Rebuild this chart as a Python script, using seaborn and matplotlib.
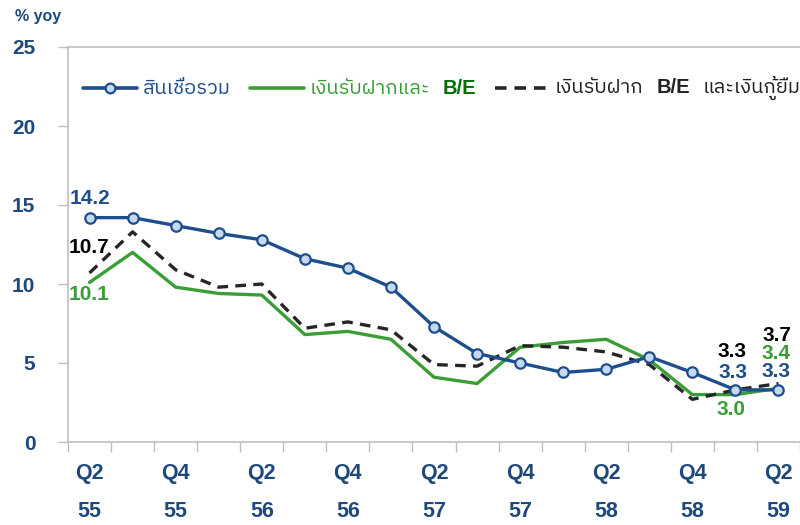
import numpy as np
import pandas as pd
import matplotlib
matplotlib.use("Agg")
import matplotlib.pyplot as plt
from matplotlib import font_manager as fm
from matplotlib.ft2font import FT2Font
from matplotlib.ticker import FixedLocator
from matplotlib.lines import Line2D
from matplotlib.offsetbox import (TextArea, DrawingArea, HPacker,
                                  AnchoredOffsetbox)
import seaborn as sns

# ---------------- data ----------------
quarters = ["Q2", "Q3", "Q4", "Q1", "Q2", "Q3", "Q4", "Q1", "Q2",
            "Q3", "Q4", "Q1", "Q2", "Q3", "Q4", "Q1", "Q2"]
years = ["55", "55", "55", "56", "56", "56", "56", "57", "57",
         "57", "57", "58", "58", "58", "58", "59", "59"]
loans = [14.2, 14.2, 13.7, 13.2, 12.8, 11.6, 11.0, 9.8, 7.3,
         5.6, 5.0, 4.4, 4.6, 5.4, 4.4, 3.3, 3.3]
deposits_be = [10.1, 12.0, 9.8, 9.4, 9.3, 6.8, 7.0, 6.5, 4.1,
               3.7, 6.0, 6.3, 6.5, 5.2, 3.0, 3.0, 3.4]
deposits_be_borrow = [10.7, 13.3, 10.9, 9.8, 10.0, 7.2, 7.6, 7.1, 4.9,
                      4.8, 6.1, 6.0, 5.7, 4.9, 2.7, 3.3, 3.7]
# legend labels split into (text, bold?) pieces
legend_pieces = [
    [("สินเชื่อรวม", False)],
    [("เงินรับฝากและ", False), ("B/E", True)],
    [("เงินรับฝาก", False), ("B/E", True), ("และเงินกู้ยืม", False)],
]
y_ticks = [0, 5, 10, 15, 20, 25]
y_label = "% yoy"

# ---------------- style ----------------
BLUE = "#1F4E8C"
GREEN = "#3A9E36"
DKGREEN = "#007000"
BLACK = "#262626"
NAVY = "#1F497D"
GRAY = "#BFBFBF"
MFACE = "#C5D9F1"
DASH = (0, (3.2, 2.2))


def find_thai_font():
    best = None
    for f in fm.fontManager.ttflist:
        try:
            ft = FT2Font(f.fname)
            if not (ft.get_char_index(0x0E2A) and ft.get_char_index(0x0E19)):
                continue
        except Exception:
            continue
        score = 0
        if "thai" in f.name.lower():
            score += 10
        if f.style == "normal":
            score += 3
        if f.weight in (400, "normal", "regular"):
            score += 2
        if best is None or score > best[0]:
            best = (score, f.name)
    return best[1] if best else None


sns.set_theme(style="white")
thai = find_thai_font()
families = ["Liberation Sans"]
if thai:
    families.append(thai)
families.append("DejaVu Sans")
plt.rcParams["font.family"] = families

fig = plt.figure(figsize=(8, 5.25), dpi=100)
ax = fig.add_axes([68 / 800, 1 - 442 / 525, (800 - 68) / 800, (442 - 47) / 525])

x = np.arange(len(quarters))
df = pd.DataFrame({"x": x, "loans": loans, "dep": deposits_be,
                   "depb": deposits_be_borrow})

sns.lineplot(data=df, x="x", y="loans", ax=ax, color=BLUE, linewidth=2.4,
             marker="o", markersize=7.5, markerfacecolor=MFACE,
             markeredgecolor=BLUE, markeredgewidth=1.6, zorder=4)
sns.lineplot(data=df, x="x", y="dep", ax=ax, color=GREEN, linewidth=2.4,
             zorder=3)
sns.lineplot(data=df, x="x", y="depb", ax=ax, color=BLACK, linewidth=2.4,
             zorder=3)
ax.lines[2].set_linestyle(DASH)

ax.set_xlim(-0.5, len(quarters) - 0.5)
ax.set_ylim(0, 25)

# x ticks: labels every other quarter, tick marks on category boundaries
lab_idx = list(range(0, len(quarters), 2))
ax.set_xticks(lab_idx)
ax.set_xticklabels([f"{quarters[i]}\n{years[i]}" for i in lab_idx],
                   fontsize=15.5, fontweight="bold", color=NAVY,
                   linespacing=2.1)
ax.xaxis.set_minor_locator(FixedLocator(np.arange(-0.5, len(quarters), 1)))
ax.tick_params(axis="x", which="major", length=0, pad=15)
ax.tick_params(axis="x", which="minor", length=7, width=1, color=GRAY,
               direction="out", bottom=True)

ax.set_yticks(y_ticks)
ax.set_yticklabels([str(v) for v in y_ticks], fontsize=15,
                   fontweight="bold", color=NAVY)
ax.tick_params(axis="y", length=7.5, width=1, color=GRAY, pad=16,
               left=True)

ax.set_xlabel("")
ax.set_ylabel("")
for side in ["left", "bottom", "top"]:
    ax.spines[side].set_visible(True)
    ax.spines[side].set_color(GRAY)
    ax.spines[side].set_linewidth(1.2)
ax.spines["right"].set_visible(False)
ax.grid(False)

fig.text(15 / 800, 1 - 17 / 525, y_label, fontsize=11.5, fontweight="bold",
         color=NAVY, va="center", ha="left")


# ---------------- legend built from offset boxes ----------------
def make_handle(color, dashed=False, marker=False):
    da = DrawingArea(39, 10, 0, 0)
    da.add_artist(Line2D([0, 39], [5, 5], color=color, lw=2.6,
                         ls=DASH if dashed else "-"))
    if marker:
        da.add_artist(Line2D([19.5], [5], marker="o", ms=7, mfc=MFACE,
                             mec=color, mew=1.6, ls="none"))
    return da


entries = []
specs = [(BLUE, False, True, BLUE, BLUE),
         (GREEN, False, False, GREEN, DKGREEN),
         (BLACK, True, False, "#222222", "#222222")]
for pieces, (lc, dashed, mk, tc, bc) in zip(legend_pieces, specs):
    texts = []
    for txt, bold in pieces:
        texts.append(TextArea(txt, textprops=dict(
            fontsize=14.5,
            fontweight="bold" if bold else "normal",
            color=bc if bold else tc)))
    tbox = HPacker(children=texts, align="baseline", pad=0, sep=9)
    entries.append(HPacker(children=[make_handle(lc, dashed, mk), tbox],
                           align="center", pad=0, sep=4))

legbox = HPacker(children=entries, align="center", pad=0, sep=14)
anch = AnchoredOffsetbox(loc="center left", child=legbox, pad=0,
                         borderpad=0, frameon=False,
                         bbox_to_anchor=(0.02, 0.896),
                         bbox_transform=ax.transAxes)
ax.add_artist(anch)


# data labels (offsets in pixels)
def lab(i, vals, color, dx, dy):
    ax.annotate(f"{vals[i]:.1f}", (x[i], vals[i]), xytext=(dx, dy),
                textcoords="offset pixels", ha="center", va="center",
                fontsize=15, fontweight="bold", color=color, zorder=6)


lab(0, loans, BLUE, 0, 19)
lab(0, deposits_be_borrow, "black", -1, 25)
lab(0, deposits_be, GREEN, 0, -12)
lab(15, deposits_be_borrow, "black", -3, 38)
lab(15, loans, BLUE, -2, 17)
lab(15, deposits_be, GREEN, -4, -15)
lab(16, deposits_be_borrow, "black", -2, 48)
lab(16, deposits_be, GREEN, -2, 35)
lab(16, loans, BLUE, -2, 18)

fig.savefig("out.png", dpi=100)
